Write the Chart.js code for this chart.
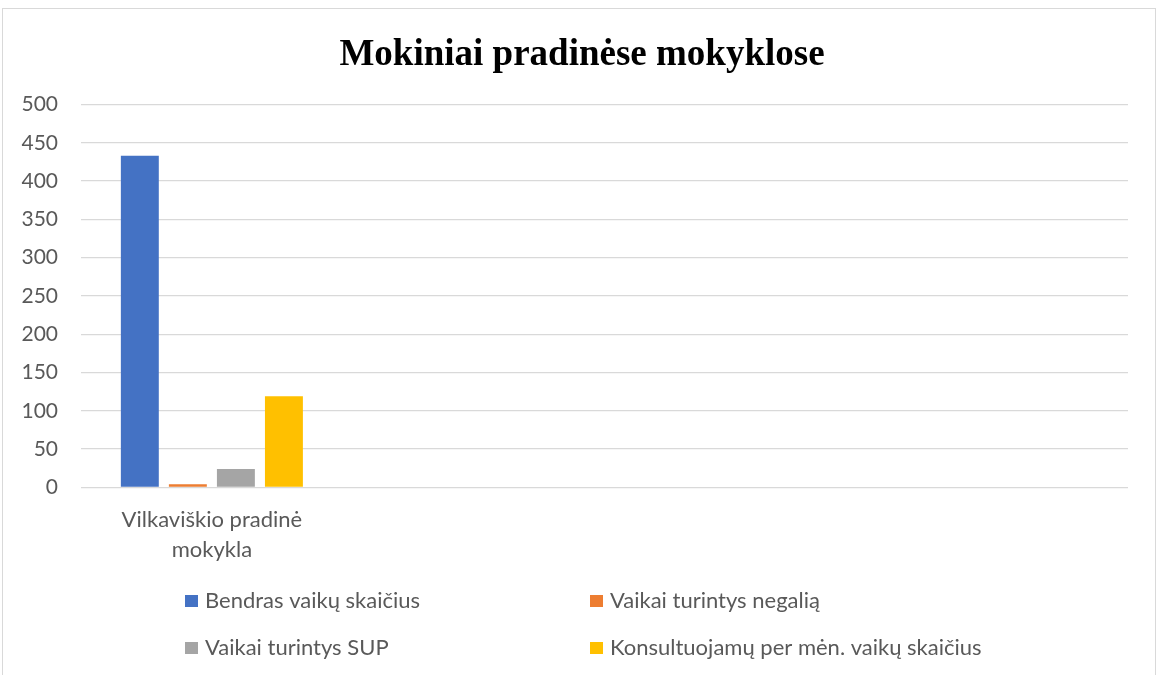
<!DOCTYPE html>
<html>
<head>
<meta charset="utf-8">
<script src="https://cdn.jsdelivr.net/npm/chart.js@4.4.1/dist/chart.umd.min.js"></script>
<style>
  html, body { margin: 0; padding: 0; background: #ffffff; }
  #wrap { position: relative; width: 1158px; height: 675px; overflow: hidden; }
  #frame { position: absolute; left: 2px; top: 8px; width: 1154px; height: 700px; border: 1px solid #d9d9d9; box-sizing: border-box; }
  canvas { position: absolute; left: 0; top: 0; }
</style>
</head>
<body>
<div id="wrap">
  <div id="frame"></div>
  <canvas id="c" width="1158" height="675"></canvas>
</div>
<script>
const chartTitle = "Mokiniai pradinėse mokyklose";
const categories = [["Vilkaviškio pradinė", "mokykla"], "", "", ""];
const seriesNames = ["Bendras vaikų skaičius", "Vaikai turintys negalią", "Vaikai turintys SUP", "Konsultuojamų per mėn. vaikų skaičius"];
const bendras = [433, null, null, null];
const negalia = [4, null, null, null];
const sup = [24, null, null, null];
const konsultuojamu = [119, null, null, null];
const yTicks = [0, 50, 100, 150, 200, 250, 300, 350, 400, 450, 500];
const colors = ["#4472c4", "#ed7d31", "#a5a5a5", "#ffc000"];

const seriesValues = [bendras, negalia, sup, konsultuojamu];
const textColor = "#595959";
const baseFont = "Lato, 'Open Sans', sans-serif";

const titleAndLegend = {
  id: "titleAndLegend",
  afterDraw(chart) {
    const ctx = chart.ctx;
    ctx.save();
    // title
    ctx.font = "bold 37px 'Liberation Serif', 'Times New Roman', serif";
    ctx.fillStyle = "#000000";
    ctx.textAlign = "center";
    ctx.textBaseline = "alphabetic";
    ctx.fillText(chartTitle, 582, 65);
    // legend
    const cols = [185, 590];
    const rows = [601, 648];
    ctx.font = "22px " + baseFont;
    ctx.textBaseline = "middle";
    ctx.textAlign = "left";
    chart.data.datasets.forEach((ds, i) => {
      const x = cols[i % 2];
      const y = rows[Math.floor(i / 2)];
      ctx.fillStyle = ds.backgroundColor;
      ctx.fillRect(x, y - 6, 13, 12);
      ctx.fillStyle = textColor;
      ctx.fillText(ds.label, x + 20, y);
    });
    ctx.restore();
  }
};

new Chart(document.getElementById("c"), {
  type: "bar",
  data: {
    labels: categories,
    datasets: seriesNames.map((name, i) => ({
      label: name,
      data: seriesValues[i],
      backgroundColor: colors[i],
      borderWidth: 0,
      categoryPercentage: 0.734,
      barPercentage: 0.79
    }))
  },
  options: {
    responsive: false,
    animation: false,
    layout: { padding: { left: 0, right: 30, top: 104.5, bottom: 97.7 } },
    plugins: {
      legend: { display: false },
      tooltip: { enabled: false },
      title: { display: false }
    },
    scales: {
      x: {
        grid: { display: false },
        border: { display: false },
        ticks: {
          color: textColor,
          font: { family: baseFont, size: 22, lineHeight: 1.36 },
          padding: 10,
          maxRotation: 0,
          autoSkip: false
        },
        afterFit(scale) { scale.height = 90; }
      },
      y: {
        min: 0,
        max: 500,
        afterBuildTicks(scale) { scale.ticks = yTicks.map(v => ({ value: v })); },
        grid: { color: "#d9d9d9", lineWidth: 1.3, drawTicks: false },
        border: { display: false },
        ticks: {
          color: textColor,
          font: { family: baseFont, size: 21 },
          padding: 23
        },
        afterFit(scale) { scale.width = 81; }
      }
    }
  },
  plugins: [titleAndLegend]
});
</script>
</body>
</html>
